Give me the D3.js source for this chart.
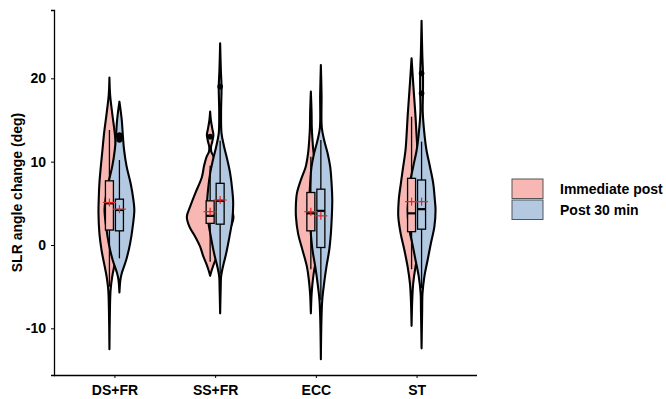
<!DOCTYPE html>
<html>
<head>
<meta charset="utf-8">
<script src="https://cdn.jsdelivr.net/npm/d3@7"></script>
<style>
  body { margin: 0; background: #fff; }
  text { font-family: "Liberation Sans", Arial, sans-serif; font-weight: bold; }
</style>
</head>
<body>
<svg id="chart" width="666" height="399"></svg>
<script>
// categories and groups
const categories = ['DS+FR', 'SS+FR', 'ECC', 'ST'];
const groups = ['Immediate post', 'Post 30 min'];
const yTicks = [-10, 0, 10, 20];

// violin profiles: [value (deg), relative density]
const dsfrImmediate = [[20.1,0],[18,0.03],[15.8,0.12],[13.4,0.23],[11.4,0.3],[9.4,0.37],[7.4,0.43],[5.4,0.46],[3.8,0.47],[1.4,0.43],[-0.6,0.34],[-2.2,0.23],[-3.8,0.12],[-5.4,0.05],[-8,0.02],[-12.5,0]];
const dsfrPost30 = [[17.2,0],[15,0.1],[13,0.15],[11.4,0.2],[9.4,0.31],[7.4,0.48],[5.4,0.6],[4.2,0.64],[2.2,0.57],[0.2,0.46],[-1.8,0.29],[-3.4,0.1],[-4.2,0.04],[-5.7,0]];
const ssfrImmediate = [[16,0],[15,0.03],[14,0.09],[13.2,0.14],[12.4,0.09],[11.8,0.04],[11.2,0.05],[10.6,0.15],[9.5,0.26],[8.1,0.36],[6.2,0.64],[4.6,0.86],[3.4,1],[2.2,0.89],[1.0,0.64],[-0.2,0.43],[-1.4,0.29],[-2.2,0.17],[-3,0.07],[-3.7,0]];
const ssfrPost30 = [[24.2,0],[21,0.03],[19,0.06],[16,0.04],[13.4,0.06],[11.8,0.17],[10.2,0.31],[8.6,0.43],[6.6,0.52],[5.0,0.56],[3.0,0.52],[1.0,0.4],[-1.0,0.26],[-2.6,0.12],[-3.8,0.04],[-5,0.025],[-8.2,0]];
const eccImmediate = [[18.4,0],[16,0.03],[14.1,0.04],[12.6,0.07],[11,0.12],[9.4,0.22],[7.8,0.43],[6.2,0.6],[5.0,0.64],[3.4,0.64],[1.4,0.55],[-0.6,0.36],[-2.6,0.17],[-4.6,0.07],[-6,0.03],[-8.2,0]];
const eccPost30 = [[21.6,0],[18,0.03],[14.1,0.04],[12.6,0.14],[11,0.29],[9.4,0.4],[7.4,0.46],[5.4,0.49],[3.4,0.47],[1.4,0.43],[-0.6,0.36],[-2.6,0.24],[-4.6,0.14],[-6.6,0.06],[-9,0.025],[-13.7,0]];
const stImmediate = [[22.4,0],[19.4,0.07],[17.4,0.12],[15.4,0.17],[13.4,0.21],[11.4,0.26],[9.4,0.36],[7.4,0.46],[5.4,0.55],[3.4,0.57],[1.4,0.47],[-0.6,0.31],[-2.6,0.17],[-4.6,0.07],[-6.5,0.03],[-9.7,0]];
const stPost30 = [[26.9,0],[23,0.03],[20.6,0.06],[18.2,0.06],[16,0.05],[13.4,0.12],[11.4,0.21],[9.4,0.36],[7.4,0.5],[5.4,0.57],[4.2,0.6],[2.2,0.55],[0.2,0.4],[-1.8,0.26],[-3.8,0.12],[-5.8,0.04],[-8,0.025],[-12.4,0]];

// box stats: [lower whisker, q1, median, q3, upper whisker]
const boxImmediate = [[-5.0,1.8,5.0,7.7,13.8],[-2.0,2.6,3.5,5.3,9.5],[-2.9,1.7,3.8,6.3,10.6],[-2.9,1.6,3.8,8.0,15.4]];
const boxPost30 = [[-1.6,1.7,4.2,5.5,10.2],[-3.5,2.5,5.3,7.4,12.5],[-6.6,-0.3,4.1,6.7,12.6],[-5.2,1.9,4.3,7.8,12.4]];
const meanImmediate = [5.1, 4.0, 4.0, 5.2];
const meanPost30 = [4.3, 5.4, 3.5, 5.2];
const outImmediate = [[], [13.0], [], []];
const outPost30 = [[12.6,12.9,13.2], [19.0], [], [18.2,20.6]];

const violins = [
  [dsfrImmediate, dsfrPost30],
  [ssfrImmediate, ssfrPost30],
  [eccImmediate, eccPost30],
  [stImmediate, stPost30]
];

const colors = { 'Immediate post': '#f8b7b3', 'Post 30 min': '#b3c9e2' };

const svg = d3.select('#chart');
const margin = { left: 54, right: 189, top: 10, bottom: 24 };
const W = 666, H = 399;

const x = d3.scalePoint().domain(categories).range([margin.left, W - margin.right]).padding(0.6);
const dodge = d3.scalePoint().domain(groups).range([-5, 5]);
const y = d3.scaleLinear().domain([-15.6, 28.2]).range([H - margin.bottom, margin.top]);
const wScale = d3.scaleLinear().domain([0, 1]).range([0, 23.3]);

const plot = svg.append('g');

categories.forEach((cat, ci) => {
  const cx = x(cat);
  // violins, pink first so blue sits on top
  groups.forEach((g, gi) => {
    const c = cx + dodge(g);
    const area = d3.area()
      .y(d => y(d[0]))
      .x0(d => c - wScale(d[1]))
      .x1(d => c + wScale(d[1]))
      .curve(d3.curveCatmullRom);
    plot.append('path')
      .datum(violins[ci][gi])
      .attr('d', area)
      .attr('fill', colors[g])
      .attr('stroke', '#000')
      .attr('stroke-width', 2.1)
      .attr('stroke-linejoin', 'round');
  });
  // boxes
  groups.forEach((g, gi) => {
    const c = cx + dodge(g);
    const b = (gi === 0 ? boxImmediate : boxPost30)[ci];
    const bw = 4;
    const bx = plot.append('g');
    bx.append('line')
      .attr('x1', c).attr('x2', c)
      .attr('y1', y(b[4])).attr('y2', y(b[3]))
      .attr('stroke', '#000').attr('stroke-width', 1.3);
    bx.append('line')
      .attr('x1', c).attr('x2', c)
      .attr('y1', y(b[1])).attr('y2', y(b[0]))
      .attr('stroke', '#000').attr('stroke-width', 1.3);
    bx.append('rect')
      .attr('x', c - bw).attr('width', bw * 2)
      .attr('y', y(b[3])).attr('height', y(b[1]) - y(b[3]))
      .attr('fill', colors[g])
      .attr('stroke', '#000').attr('stroke-width', 1.3);
    bx.append('line')
      .attr('x1', c - bw).attr('x2', c + bw)
      .attr('y1', y(b[2])).attr('y2', y(b[2]))
      .attr('stroke', '#000').attr('stroke-width', 2.2);
    const outs = (gi === 0 ? outImmediate : outPost30)[ci];
    bx.selectAll('circle')
      .data(outs)
      .enter()
      .append('circle')
      .attr('cx', c)
      .attr('cy', d => y(d))
      .attr('r', 2.8)
      .attr('fill', '#000');
  });
  // means
  groups.forEach((g, gi) => {
    const c = cx + dodge(g);
    const m = (gi === 0 ? meanImmediate : meanPost30)[ci];
    plot.append('line')
      .attr('x1', c - 6.5).attr('x2', c + 6.5)
      .attr('y1', y(m)).attr('y2', y(m))
      .attr('stroke', '#e8231f').attr('stroke-width', 1.2);
    plot.append('line')
      .attr('x1', c).attr('x2', c)
      .attr('y1', y(m) - 4).attr('y2', y(m) + 4)
      .attr('stroke', '#e8231f').attr('stroke-width', 1.2);
  });
});

// axes
const xAxis = svg.append('g')
  .attr('transform', `translate(0,${H - margin.bottom})`)
  .call(d3.axisBottom(x).tickSizeOuter(0).tickSize(3).tickPadding(7));
xAxis.select('.domain').attr('d', `M${margin.left},0.5H${W - margin.right}`).attr('stroke-width', 1.3);
xAxis.selectAll('text').style('font-size', '14px').attr('fill', '#000');

const yAxis = svg.append('g')
  .attr('transform', `translate(${margin.left},0)`)
  .call(d3.axisLeft(y).tickValues(yTicks).tickFormat(d => String(d)).tickSizeOuter(0).tickSize(3).tickPadding(5));
yAxis.select('.domain').attr('stroke-width', 1.3);
yAxis.selectAll('text').style('font-size', '14px').attr('fill', '#000');

svg.append('text')
  .attr('transform', `translate(22,${(margin.top + H - margin.bottom) / 2}) rotate(-90)`)
  .attr('text-anchor', 'middle')
  .style('font-size', '14px')
  .text('SLR angle change (deg)');

// legend
const legend = svg.append('g').attr('class', 'legends');
groups.forEach((g, i) => {
  legend.append('rect')
    .attr('x', 512).attr('y', 179 + i * 21)
    .attr('width', 31).attr('height', 19.5)
    .attr('fill', colors[g])
    .attr('stroke', '#555').attr('stroke-width', 1);
  legend.append('text')
    .attr('x', 560).attr('y', 193.5 + i * 21)
    .style('font-size', '14px')
    .text(g);
});
</script>
</body>
</html>
